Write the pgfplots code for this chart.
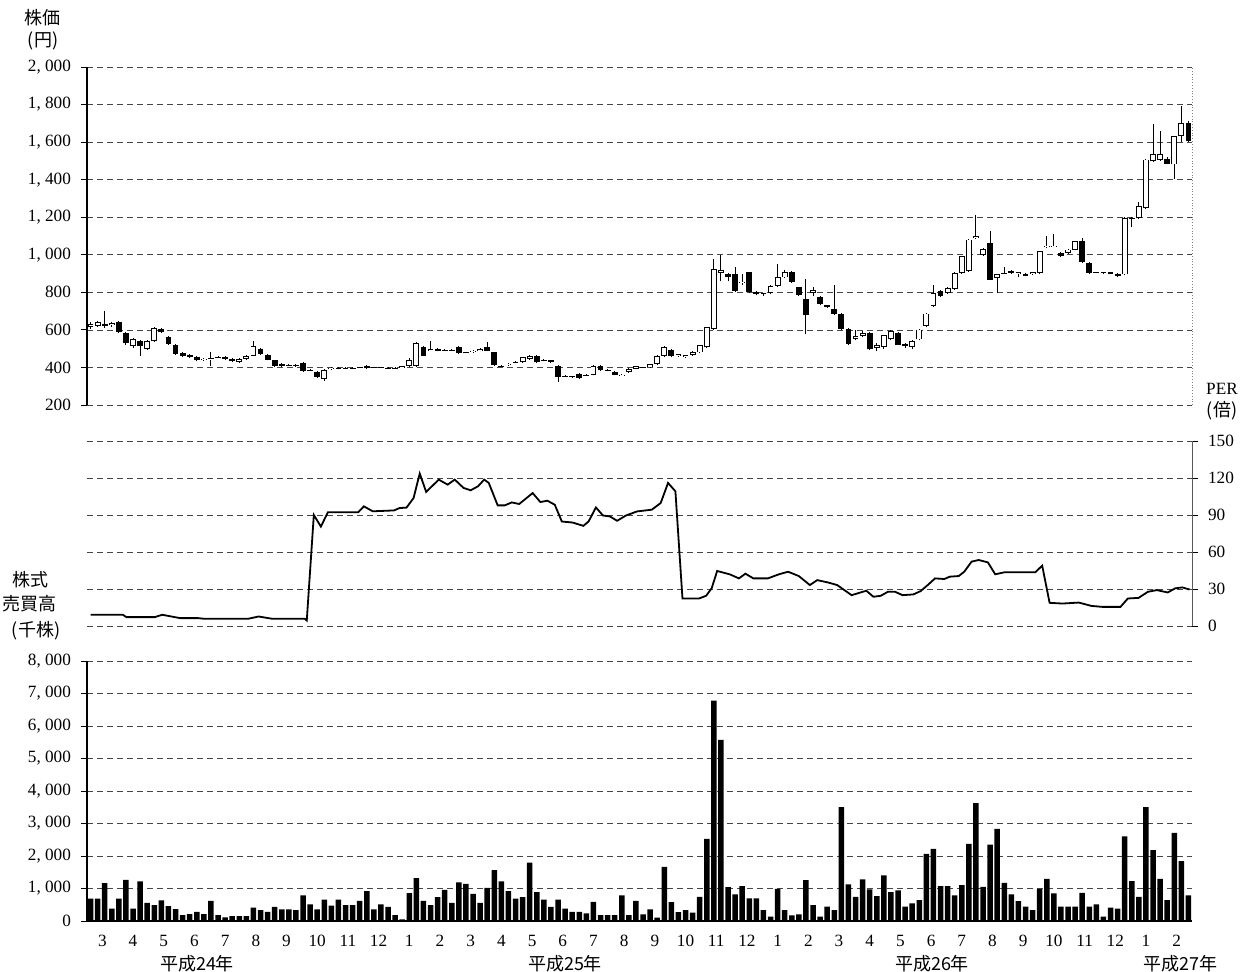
\documentclass[border=0pt]{standalone}
\usepackage{fontspec}
\setmainfont{Liberation Serif}
\newfontfamily\jp{Noto Sans CJK JP}
\usepackage{pgfplots}
\usepackage{pgfplotstable}
\pgfplotsset{compat=1.18}

% weekly candles: i = week index (0 = first week of March, H24)
\pgfplotstableread{
i o h l c
0 615 640 605 630
1 622 645 615 640
2 630 700 612 620
3 625 640 615 635
4 640 645 585 590
5 585 590 520 528
6 515 555 505 550
7 540 548 463 512
8 500 545 495 540
9 540 615 535 612
10 603 608 585 590
11 560 565 520 525
12 520 525 468 472
13 477 482 458 463
14 467 472 450 455
15 455 460 432 437
16 440 450 435 445
17 448 480 410 450
18 452 460 448 455
19 458 462 440 445
20 445 448 428 432
21 430 448 425 445
22 445 466 442 463
23 463 542 460 515
24 498 502 468 472
25 467 470 438 442
26 437 440 405 410
27 420 425 405 410
28 412 420 408 415
29 415 418 402 410
30 425 428 376 380
31 382 390 378 385
32 376 380 345 350
33 340 390 330 385
34 390 400 385 398
35 395 400 390 396
36 396 402 392 398
37 398 403 394 399
38 400 405 395 402
39 410 414 394 397
40 398 404 394 400
41 400 405 396 401
42 399 404 394 398
43 397 402 392 396
44 398 410 395 408
45 408 448 405 440
46 410 535 405 530
47 507 512 460 463
48 490 542 486 498
49 498 505 486 490
50 493 500 488 495
51 495 500 488 492
52 507 512 474 477
53 477 484 472 480
54 481 494 478 490
55 490 502 486 498
56 510 533 486 490
57 480 484 410 414
58 410 414 402 408
59 415 424 410 420
60 426 432 422 428
61 428 458 424 455
62 445 466 442 463
63 463 468 424 428
64 440 444 432 437
65 437 440 424 428
66 408 412 323 350
67 357 362 350 354
68 352 356 344 350
69 367 370 340 344
70 358 365 355 361
71 361 412 358 408
72 408 412 382 385
73 387 390 380 385
74 376 380 358 361
75 360 366 356 362
76 376 396 372 393
77 393 410 390 408
78 402 405 396 400
79 400 420 398 418
80 418 465 412 462
81 462 515 458 507
82 494 498 458 462
83 462 474 458 471
84 455 468 450 466
85 466 488 462 484
86 480 522 476 519
87 507 616 504 613
88 604 977 600 924
89 905 1000 860 920
90 900 905 860 880
91 897 933 800 808
92 850 900 840 855
93 906 910 795 800
94 800 805 785 790
95 794 798 780 789
96 796 840 790 835
97 835 950 830 879
98 879 920 875 909
99 906 912 850 856
100 826 830 780 785
101 764 870 578 679
102 796 830 780 814
103 773 778 730 737
104 730 735 718 724
105 711 840 680 684
106 684 688 600 604
107 604 610 520 524
108 551 600 545 565
109 566 592 560 583
110 583 588 495 498
111 505 528 485 520
112 507 575 500 572
113 551 598 545 595
114 584 590 518 522
115 524 530 505 515
116 510 545 496 540
117 549 605 545 602
118 620 690 615 687
119 726 841 720 797
120 806 812 775 779
121 797 828 792 824
122 818 908 814 904
123 904 995 900 992
124 913 1085 908 1081
125 1090 1214 1085 1099
126 1001 1035 995 1031
127 1063 1126 865 868
128 877 900 794 895
129 900 935 895 904
130 913 918 900 904
131 900 910 880 906
132 898 902 885 889
133 898 910 894 907
134 904 1022 900 1019
135 1040 1099 1035 1046
136 1045 1110 1040 1049
137 1010 1015 988 992
138 1010 1032 1005 1028
139 1028 1076 1024 1072
140 1072 1090 955 960
141 957 962 900 904
142 902 910 898 906
143 907 910 898 902
144 907 910 895 898
145 898 902 880 889
146 895 1200 890 1196
147 1196 1200 1150 1188
148 1196 1280 1190 1259
149 1250 1510 1245 1507
150 1498 1694 1494 1534
151 1507 1660 1500 1534
152 1511 1520 1482 1486
153 1481 1635 1404 1631
154 1631 1791 1600 1700
155 1702 1710 1600 1605
}\candles

% PER (x in months from March H24)
\pgfplotstableread{
m p
0.12 9.1
1.17 9.1
1.28 7.2
2.21 7.2
2.45 9.1
3.03 6.4
3.61 6.4
3.84 5.8
5.24 5.8
5.59 7.7
6.05 5.8
7.10 5.8
7.16 4.5
7.39 90.0
7.62 80.6
7.85 92.3
8.84 92.3
9.02 97.0
9.31 93.0
10.00 93.7
10.18 95.6
10.41 96.0
10.64 103.8
10.84 123.6
11.05 108.7
11.46 118.7
11.75 114.6
11.98 118.7
12.27 111.9
12.50 110.0
12.74 113.3
12.94 118.7
13.09 116.0
13.38 97.8
13.61 97.8
13.84 100.2
14.08 98.9
14.52 107.8
14.77 100.5
15.00 101.6
15.24 98.3
15.47 84.7
15.82 83.9
16.17 81.2
16.34 84.7
16.58 96.1
16.81 89.6
17.04 88.8
17.27 85.3
17.56 89.6
17.92 92.9
18.40 94.3
18.69 99.7
18.93 116.0
19.17 109.2
19.40 22.3
19.94 22.3
20.17 24.5
20.35 30.5
20.53 44.6
20.94 41.9
21.24 38.6
21.45 42.4
21.71 38.6
22.18 38.6
22.54 41.9
22.84 44.0
23.19 40.5
23.55 33.2
23.79 37.2
24.14 35.3
24.44 33.2
24.91 25.0
25.39 28.6
25.62 23.7
25.86 24.5
26.09 27.7
26.33 27.7
26.57 25.0
26.92 25.6
27.16 28.3
27.39 33.2
27.63 38.6
27.93 38.1
28.11 40.0
28.40 40.5
28.58 44.0
28.82 52.2
29.05 53.5
29.35 51.6
29.59 41.9
29.88 43.5
30.47 43.5
30.89 43.5
31.12 48.9
31.36 18.8
31.78 18.2
32.31 19.0
32.72 16.3
33.08 15.5
33.67 15.5
33.91 22.3
34.26 22.8
34.56 27.7
34.85 29.1
35.21 27.2
35.45 30.5
35.68 31.3
35.92 29.6
}\per

% weekly volume (thousand shares)
\pgfplotstableread{
i v
0 687
1 687
2 1162
3 384
4 687
5 1263
6 384
7 1222
8 556
9 485
10 636
11 455
12 364
13 182
14 212
15 283
16 212
17 616
18 182
19 111
20 152
21 152
22 152
23 414
24 333
25 283
26 434
27 354
28 354
29 333
30 788
31 515
32 354
33 657
34 475
35 657
36 485
37 485
38 616
39 919
40 354
41 515
42 434
43 182
44 50
45 859
46 1323
47 616
48 485
49 737
50 960
51 556
52 1192
53 1141
54 838
55 556
56 1020
57 1566
58 1222
59 919
60 687
61 737
62 1798
63 889
64 657
65 434
66 657
67 384
68 283
69 283
70 232
71 586
72 182
73 182
74 182
75 788
76 182
77 616
78 204
79 358
80 102
81 1667
82 583
83 276
84 337
85 256
86 746
87 2526
88 6779
89 5573
90 1043
91 818
92 1074
93 695
94 695
95 337
96 133
97 992
98 337
99 174
100 204
101 1258
102 491
103 133
104 440
105 337
106 3507
107 1125
108 746
109 1278
110 971
111 767
112 1401
113 890
114 941
115 440
116 542
117 644
118 2065
119 2219
120 1074
121 1074
122 787
123 1104
124 2372
125 3630
126 1053
127 2352
128 2832
129 1176
130 818
131 613
132 440
133 337
134 992
135 1299
136 849
137 440
138 440
139 440
140 869
141 440
142 511
143 133
144 409
145 378
146 2607
147 1227
148 746
149 3507
150 2178
151 1299
152 644
153 2710
154 1840
155 787
}\vol

\def\u{0.5pt}
\def\WX{(\thisrow{i}+0.5)*36/156}
\newcommand{\tf}{\fontsize{8.6}{10}\selectfont}
\newcommand{\jf}{\jp\fontsize{9}{11}\selectfont}

\begin{document}
\begin{tikzpicture}
\useasboundingbox (0,0) rectangle (1243*\u,-972*\u);
\pgfplotsset{
  base/.style={scale only axis, width=1105*\u, xmin=0, xmax=36, anchor=south west,
    axis line style={draw=none}, xtick=\empty, clip=false,
    ymajorgrids, grid style={densely dashed, gray!55!black, line width=0.35pt},
    tick align=outside, major tick length=3pt,
    ytick style={black, line width=0.4pt},
    tick label style={font=\tf},
    /pgf/number format/.cd, assume math mode=true, 1000 sep={,\ }},
  nomk/.style={only marks, mark=none, mark size=0pt,
    mark options={draw=none, fill=none}},
}

% ---------------- price ----------------
\begin{axis}[base, at={(87*\u,-405*\u)}, height=338*\u,
  ymin=200, ymax=2000, ytick={200,400,...,2000}, ytick pos=left,
  yticklabel style={xshift=-1.5pt}]
  % wicks
  \addplot[nomk,
    error bars/.cd, y dir=plus, y explicit, error mark=none,
    error mark options={draw=none, fill=none, mark size=0pt},
    error bar style={line width=0.5pt, black}]
    table[x expr=\WX, y=l, y error plus expr={\thisrow{h}-\thisrow{l}}]{\candles};
  % white bodies: outline
  \addplot[nomk,
    restrict expr to domain={\thisrow{c}-\thisrow{o}}{0:5000},
    error bars/.cd, y dir=plus, y explicit, error mark=none,
    error mark options={draw=none, fill=none, mark size=0pt},
    error bar style={line width=2.9pt, black}]
    table[x expr=\WX, y=o, y error plus expr={\thisrow{c}-\thisrow{o}}]{\candles};
  % white bodies: fill
  \addplot[nomk,
    restrict expr to domain={\thisrow{c}-\thisrow{o}}{1.5:5000},
    error bars/.cd, y dir=plus, y explicit, error mark=none,
    error mark options={draw=none, fill=none, mark size=0pt},
    error bar style={line width=2.0pt, white, shorten <=0.45pt, shorten >=0.45pt}]
    table[x expr=\WX, y=o, y error plus expr={\thisrow{c}-\thisrow{o}}]{\candles};
  % black bodies
  \addplot[nomk,
    restrict expr to domain={\thisrow{o}-\thisrow{c}}{0.001:5000},
    error bars/.cd, y dir=plus, y explicit, error mark=none,
    error mark options={draw=none, fill=none, mark size=0pt},
    error bar style={line width=2.9pt, black}]
    table[x expr=\WX, y=c, y error plus expr={\thisrow{o}-\thisrow{c}}]{\candles};
  \draw[black, line width=0.6pt] (rel axis cs:0,0) -- (rel axis cs:0,1);
  \draw[gray, densely dotted, line width=0.4pt] (rel axis cs:1,0) -- (rel axis cs:1,1);
\end{axis}

% ---------------- PER ----------------
\begin{axis}[base, at={(87*\u,-626*\u)}, height=185*\u,
  ymin=0, ymax=150, ytick={0,30,...,150}, ytick pos=right, yticklabel pos=right,
  yticklabel style={anchor=west, xshift=1.5pt}]
  \addplot[black, line width=0.9pt, mark=none] table[x=m, y=p]{\per};
  \draw[gray!70!black, line width=0.5pt] (rel axis cs:1,0) -- (rel axis cs:1,1);
\end{axis}

% ---------------- volume ----------------
\begin{axis}[base, at={(87*\u,-921*\u)}, height=260*\u,
  ymin=0, ymax=8000, ytick={0,1000,...,8000}, ytick pos=left,
  yticklabel style={xshift=-1.5pt},
  xtick={0.5,1.5,...,35.5},
  xticklabels={3,4,5,6,7,8,9,10,11,12,1,2,3,4,5,6,7,8,9,10,11,12,1,2,3,4,5,6,7,8,9,10,11,12,1,2},
  xtick style={draw=none}, xticklabel style={yshift=-0.5pt}]
  \addplot[ybar, bar width=2.75pt, fill=black, draw=none] table[x expr=\WX, y=v]{\vol};
  \draw[black, line width=0.6pt] (rel axis cs:0,0) -- (rel axis cs:0,1);
  \draw[black, line width=0.6pt] (rel axis cs:0,0) -- (rel axis cs:1,0);
\end{axis}

% ---------------- labels ----------------
\node[font=\jf] at (43*\u,-18*\u) {株価};
\node[font=\jf] at (43*\u,-41*\u) {(円)};
\node[font=\tf] at (1222*\u,-389*\u) {PER};
\node[font=\jf] at (1222*\u,-411*\u) {(倍)};
\node[font=\jf] at (30*\u,-580*\u) {株式};
\node[font=\jf] at (30*\u,-604*\u) {売買高};
\node[font=\jf] at (36*\u,-631*\u) {(千株)};
\node[font=\jf] at (197*\u,-964*\u) {平成24年};
\node[font=\jf] at (565*\u,-964*\u) {平成25年};
\node[font=\jf] at (932*\u,-964*\u) {平成26年};
\node[font=\jf] at (1180*\u,-964*\u) {平成27年};
\end{tikzpicture}
\end{document}
